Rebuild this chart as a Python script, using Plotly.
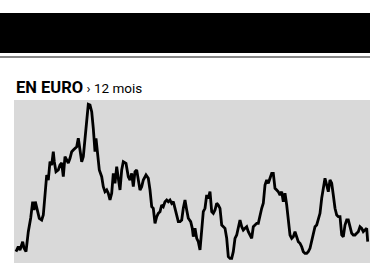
import plotly.graph_objects as go

# Data (arbitrary units: day offset, price level)
jours = [0, 2.3, 4, 6.7, 8, 10, 12.3, 14.7, 16.7, 18,
         19.3, 21.3, 23.3, 25.7, 27.3, 29, 30.7, 32.3, 34, 35.7,
         37.3, 38.3, 40, 42.3, 44, 45.7, 47.3, 49, 50.7, 52.3,
         54, 55.7, 57.3, 59, 60.7, 62.3, 64, 65.7, 67.3, 69,
         70.7, 72.3, 74, 75.7, 77.3, 79, 80, 81.3, 83.3, 85.7,
         87.3, 89, 90.7, 92.3, 94, 95.7, 97.3, 99, 100.7, 102.3,
         104, 105.7, 107.3, 110, 112.3, 114, 115.7, 117.3, 119, 120.7,
         122.3, 124, 125.7, 127.3, 130, 132.3, 134, 135.7, 137.3, 139,
         140.7, 142.3, 144, 145.7, 147.3, 149, 150.7, 152.3, 154, 155.7,
         157.3, 159, 160.7, 162.3, 164, 165.7, 167.3, 169, 170.7, 172.3,
         174.7, 176.3, 177.3, 179, 180.7, 182.3, 184, 185.7, 187.3, 189,
         190.7, 192.3, 194, 195.7, 197.3, 199, 200.7, 202.3, 204, 205.7,
         207.3, 209, 210.7, 212.3, 214, 215.7, 217.3, 219, 220.7, 222.3,
         224, 225.7, 227.3, 229, 230.7, 232.3, 234, 235.7, 237.3, 239,
         240.7, 242.3, 244, 245.7, 247.3, 249, 250.7, 252.3, 254, 255.7,
         257.3, 259, 260.7, 262.3, 264, 265.7, 267.3, 269, 270.7, 272.3,
         274, 275.7, 277.3, 279, 280.7, 282.3, 284, 285.7, 287.3, 289,
         290.7, 292.3, 294, 295.7, 297.3, 299, 300.7, 302.3, 304, 305.7,
         307.3, 309, 310.7, 312.3, 314, 315.7, 317.3, 319, 320.7, 322.3,
         324, 325.7, 327.3, 329, 330.7, 332.3, 334, 335.7, 337.3, 339,
         340.7, 342.3, 344, 345.7, 347.3, 349, 350.7, 351.7]

cours = [11.3, 16.3, 13, 21.3, 15, 11.3, 31.3, 45, 61.3, 53,
         61.3, 51.3, 44.7, 43, 48, 68, 88, 83, 101.3, 98,
         111.3, 101.3, 91.3, 93, 98, 100, 86.3, 106.3, 103, 100,
         104.7, 111.3, 113, 114.7, 116.3, 124.7, 109.7, 101.3, 106.3, 124.7,
         148, 158.7, 158, 151.3, 134.7, 111.3, 124.7, 111.3, 93, 86.3,
         76.3, 71.3, 73, 69.7, 63, 69.7, 89.7, 79.7, 96.3, 84.7,
         73, 93, 101.3, 99.7, 86.3, 83, 89.7, 76.3, 91.3, 93,
         81.3, 73, 76.3, 83, 88, 84.7, 73, 56.3, 54.7, 39.7,
         46.3, 49.7, 51.3, 58, 56.3, 61.3, 63, 61.3, 63, 59.7,
         61.3, 54.7, 49.7, 41.3, 41.3, 43, 54.7, 63, 53, 44.7,
         41.3, 34.7, 26.3, 34.7, 24.7, 21.3, 13, 34.7, 51.3, 54.7,
         68, 64.7, 71.3, 51.3, 49.7, 53, 59.7, 58, 54.7, 38,
         36.3, 34.7, 24.7, 6.3, 4.7, 4.7, 11.3, 24.7, 28, 34.7,
         43, 36.3, 33, 34.7, 36.3, 31.3, 28, 24.7, 36.3, 38,
         39.7, 39.7, 48, 54.7, 59.7, 78, 83, 79.7, 84.7, 89.7,
         89.7, 74.7, 73, 71.3, 68, 71.3, 61.3, 69.7, 58, 41.3,
         28, 24.7, 26.3, 31.3, 24.7, 21.3, 19.7, 16.3, 11.3, 9.7,
         9.7, 11.3, 14.7, 21.3, 28, 36.3, 38, 44.7, 49.7, 64.7,
         74.7, 84.7, 78, 71.3, 83, 79.7, 68, 54.7, 48, 46.3,
         46.3, 28, 26.3, 38, 43, 43, 36.3, 29.7, 28, 28,
         29.7, 31.3, 36.3, 34.7, 31.3, 33, 34.7, 21.3]

W, H = 370, 263

fig = go.Figure()
fig.add_trace(go.Scatter(x=jours, y=cours, mode="lines",
                         line=dict(color="#000000", width=2.8),
                         hoverinfo="skip", showlegend=False))

def py(px):
    return 1 - px / H

fig.update_layout(
    width=W, height=H,
    margin=dict(l=0, r=0, t=0, b=0),
    paper_bgcolor="#ffffff",
    plot_bgcolor="#d9d9d9",
    xaxis=dict(domain=[14 / W, 1], range=[-2, 354], visible=False, fixedrange=True),
    yaxis=dict(domain=[0, py(100)], range=[0, 163], visible=False, fixedrange=True),
    shapes=[
        dict(type="rect", xref="paper", yref="paper", x0=0, x1=1,
             y0=py(53), y1=py(13), fillcolor="#000000", line=dict(width=0), layer="below"),
        dict(type="rect", xref="paper", yref="paper", x0=0, x1=1,
             y0=py(58), y1=py(56), fillcolor="#888888", line=dict(width=0), layer="below"),
    ],
    annotations=[
        dict(xref="paper", yref="paper", x=14 / W, y=py(99), xanchor="left", yanchor="bottom",
             showarrow=False, align="left",
             text="<b>EN EURO</b><span style='font-size:13.5px'> › 12 mois</span>",
             font=dict(family="Roboto, sans-serif", size=16.5, color="#000000")),
    ],
)

fig.write_html("out.html", config={"displayModeBar": False},
               post_script="document.body.style.margin='0';document.body.style.padding='0';")
